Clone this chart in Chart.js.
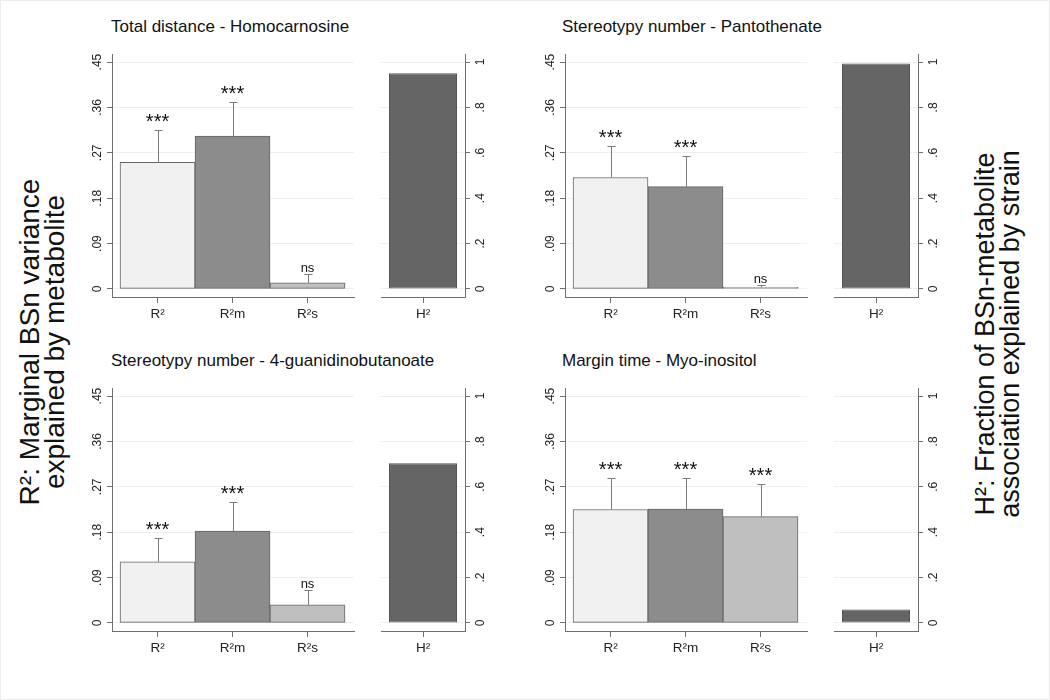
<!DOCTYPE html>
<html>
<head>
<meta charset="utf-8">
<script src="https://cdn.jsdelivr.net/npm/chart.js@4.4.1/dist/chart.umd.min.js"></script>
<style>
  body { margin: 0; background: #fff; }
  #wrap { position: relative; width: 1048px; height: 698px; border: 1px solid #ececec; overflow: hidden;
          font-family: "Liberation Sans", Arial, sans-serif; color: #111; }
  canvas { position: absolute; }
  .title { position: absolute; font-size: 17px; line-height: 18px; white-space: nowrap; }
  .ytitle { position: absolute; width: 400px; height: 52px; font-size: 27px; line-height: 25px;
            text-align: center; white-space: nowrap; transform: rotate(-90deg); transform-origin: center; }
</style>
</head>
<body>
<div id="wrap">
  <div class="ytitle" style="left:-158px; top:315px; font-size:28px;">R²: Marginal BSn variance<br>explained by metabolite</div>
  <div class="ytitle" style="left:798px; top:307px;">H²: Fraction of BSn-metabolite<br>association explained by strain</div>
</div>
<script>
const panelTitles = [
  "Total distance - Homocarnosine",
  "Stereotypy number - Pantothenate",
  "Stereotypy number - 4-guanidinobutanoate",
  "Margin time - Myo-inositol"
];
const barLabels = ["R²", "R²m", "R²s"];
const h2Label = ["H²"];

const r2Ticks = [0, 0.09, 0.18, 0.27, 0.36, 0.45];
const r2TickLabels = ["0", ".09", ".18", ".27", ".36", ".45"];
const h2Ticks = [0, 0.2, 0.4, 0.6, 0.8, 1];
const h2TickLabels = ["0", ".2", ".4", ".6", ".8", "1"];

// bar heights and upper end of the error bar, one row per panel
const r2Values = [
  [0.251, 0.303, 0.012],
  [0.221, 0.203, 0.003],
  [0.121, 0.182, 0.036],
  [0.225, 0.226, 0.211]
];
const r2Upper = [
  [0.315, 0.370, 0.030],
  [0.283, 0.263, 0.008],
  [0.169, 0.240, 0.065],
  [0.287, 0.288, 0.276]
];
const signif = [
  ["***", "***", "ns"],
  ["***", "***", "ns"],
  ["***", "***", "ns"],
  ["***", "***", "***"]
];
const h2Values = [0.951, 0.993, 0.704, 0.059];

const FONT = '"Liberation Sans", Arial, sans-serif';
const barFills = ["#f1f1f1", "#8c8c8c", "#bfbfbf"];
const axisGray = "#6f6f6f";

// y tick labels drawn turned on their side, like the original
const rotatedTicks = {
  id: "rotatedTicks",
  afterDraw(chart, args, opts) {
    const s = chart.scales.y;
    const ctx = chart.ctx;
    ctx.save();
    ctx.fillStyle = "#222";
    ctx.font = "12px " + FONT;
    ctx.textAlign = "center";
    ctx.textBaseline = "middle";
    opts.values.forEach((v, i) => {
      const y = s.getPixelForValue(v);
      const x = s.position === "left" ? s.right - opts.offset : s.left + opts.offset;
      ctx.save();
      ctx.translate(x, y);
      ctx.rotate(-Math.PI / 2);
      ctx.fillText(opts.labels[i], 0, 0);
      ctx.restore();
    });
    ctx.restore();
  }
};

const errorBars = {
  id: "errorBars",
  afterDatasetsDraw(chart, args, opts) {
    if (!opts.upper) return;
    const ctx = chart.ctx;
    const y = chart.scales.y;
    const meta = chart.getDatasetMeta(0);
    ctx.save();
    meta.data.forEach((bar, i) => {
      const top = Math.round(y.getPixelForValue(opts.upper[i])) + 0.5;
      const x = Math.round(bar.x) + 0.5;
      ctx.strokeStyle = "#7a7a7a";
      ctx.lineWidth = 1;
      ctx.beginPath();
      ctx.moveTo(x, bar.y);
      ctx.lineTo(x, top);
      ctx.moveTo(x - 4, top);
      ctx.lineTo(x + 4, top);
      ctx.stroke();
      const mark = opts.marks[i];
      ctx.fillStyle = "#111";
      ctx.textAlign = "center";
      ctx.textBaseline = "alphabetic";
      if (mark === "ns") {
        ctx.font = "13px " + FONT;
        ctx.fillText(mark, bar.x, top - 3);
      } else {
        ctx.font = "20px " + FONT;
        ctx.fillText(mark, bar.x, top - 3);
      }
    });
    ctx.restore();
  }
};

const wrap = document.getElementById("wrap");

function addCanvas(left, top, w, h) {
  const c = document.createElement("canvas");
  c.width = w;
  c.height = h;
  c.style.left = left + "px";
  c.style.top = top + "px";
  c.style.width = w + "px";
  c.style.height = h + "px";
  wrap.appendChild(c);
  return c;
}

function xAxis(extra) {
  return Object.assign({
    offset: false,
    grid: { drawOnChartArea: false, offset: false, tickLength: 6, color: axisGray },
    border: { color: axisGray },
    ticks: { color: "#222", font: { size: 13.5, family: FONT }, padding: 3, maxRotation: 0, autoSkip: false },
    afterFit: s => { s.height = 28; }
  }, extra);
}

[[0, 0], [453, 0], [0, 334], [453, 334]].forEach(([dx, dy], p) => {
  const t = document.createElement("div");
  t.className = "title";
  t.style.left = (110 + dx - (dx ? 2 : 0)) + "px";
  t.style.top = (17 + dy) + "px";
  t.textContent = panelTitles[p];
  wrap.appendChild(t);

  // left part: R², R²m, R²s
  new Chart(addCanvas(60 + dx, 44 + dy, 300, 280), {
    type: "bar",
    data: {
      datasets: [{
        data: r2Values[p].map((v, i) => ({ x: i, y: v })),
        backgroundColor: barFills,
        borderColor: "#666",
        borderWidth: 1,
        borderSkipped: false,
        barPercentage: 1,
        categoryPercentage: 1
      }]
    },
    options: {
      responsive: false,
      animation: false,
      layout: { padding: { top: 9, right: 7, left: 0, bottom: 0 } },
      plugins: {
        legend: { display: false },
        tooltip: { enabled: false },
        rotatedTicks: { values: r2Ticks, labels: r2TickLabels, offset: 14 },
        errorBars: { upper: r2Upper[p], marks: signif[p] }
      },
      scales: {
        x: xAxis({
          type: "linear",
          min: -0.607,
          max: 2.62,
          afterBuildTicks: s => { s.ticks = barLabels.map((l, i) => ({ value: i })); },
          ticks: { color: "#222", font: { size: 13.5, family: FONT }, padding: 3, maxRotation: 0, autoSkip: false,
                   callback: v => barLabels[v] }
        }),
        y: {
          min: -0.016,
          max: 0.466,
          afterBuildTicks: s => { s.ticks = r2Ticks.map(v => ({ value: v })); },
          ticks: { display: false },
          grid: { color: "#efefef", tickColor: axisGray, tickLength: 5 },
          border: { color: axisGray },
          afterFit: s => { s.width = 51; }
        }
      }
    },
    plugins: [rotatedTicks, errorBars]
  });

  // right part: H²
  new Chart(addCanvas(370 + dx, 44 + dy, 130, 280), {
    type: "bar",
    data: {
      labels: h2Label,
      datasets: [{
        data: [h2Values[p]],
        backgroundColor: "#656565",
        borderColor: "#555",
        borderWidth: 1,
        borderSkipped: false,
        barPercentage: 0.81,
        categoryPercentage: 1
      }]
    },
    options: {
      responsive: false,
      animation: false,
      layout: { padding: { top: 9, left: 10, right: 0, bottom: 0 } },
      plugins: {
        legend: { display: false },
        tooltip: { enabled: false },
        rotatedTicks: { values: h2Ticks, labels: h2TickLabels, offset: 16 }
      },
      scales: {
        x: xAxis({ offset: true }),
        y: {
          position: "right",
          min: -0.0354,
          max: 1.0354,
          afterBuildTicks: s => { s.ticks = h2Ticks.map(v => ({ value: v })); },
          ticks: { display: false },
          grid: { color: "#efefef", tickColor: axisGray, tickLength: 5 },
          border: { color: axisGray },
          afterFit: s => { s.width = 36; }
        }
      }
    },
    plugins: [rotatedTicks]
  });
});
</script>
</body>
</html>
